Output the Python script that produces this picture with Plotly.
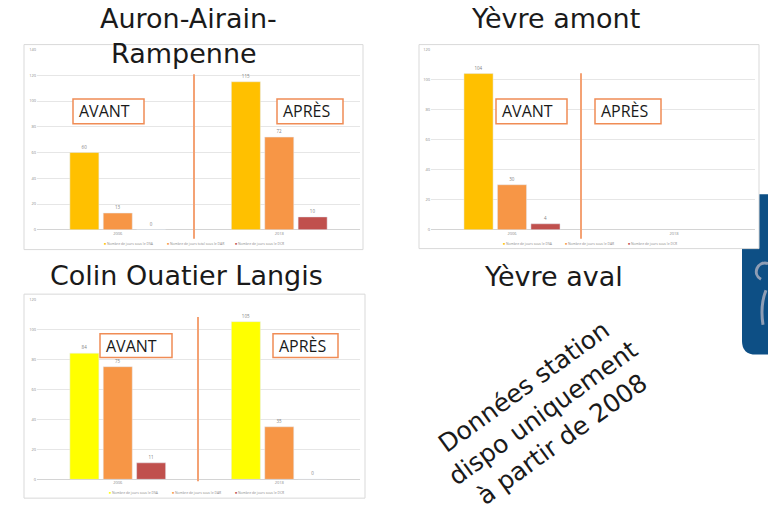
import plotly.graph_objects as go

W, H = 768, 516

# ---- data -------------------------------------------------------------
categories = ["2006", "2018"]

name_dsa = "Nombre de jours sous le DSA"
name_dar_total = "Nombre de jours total sous le DAR"
name_dar = "Nombre de jours sous le DAR"
name_dcr = "Nombre de jours sous le DCR"

auron_dsa = [60, 115]
auron_dar = [13, 72]
auron_dcr = [0, 10]

amont_dsa = [104, None]
amont_dar = [30, None]
amont_dcr = [4, None]

colin_dsa = [84, 105]
colin_dar = [75, 35]
colin_dcr = [11, 0]

titles = ["Auron-Airain-", "Rampenne", "Yèvre amont", "Colin Ouatier Langis", "Yèvre aval"]
note_lines = ["Données station", "dispo uniquement", "à partir de 2008"]
phase_labels = ["AVANT", "APRÈS"]

# ---- colours ----------------------------------------------------------
C_DSA = "#FFC000"
C_DSA_BRIGHT = "#FFFF00"
C_DAR = "#F79646"
C_DCR = "#C0504D"
C_DIVIDER = "#F4A274"
C_BOX = "#F08C55"
C_GRID = "#E6E6E6"
C_SMALL = "#8C8C8C"


def px(x):
    return x / W


def py(y):
    return 1 - y / H


fig = go.Figure()

# panel geometry in pixels: plot area (x0, x1, y_top, y_zero), y max
panels = [
    dict(ax="", x0=37, x1=360, ytop=47, yzero=229, ymax=140,
         series=[(name_dsa, auron_dsa, C_DSA), (name_dar_total, auron_dar, C_DAR), (name_dcr, auron_dcr, C_DCR)],
         frame=(24, 42, 363, 249), divider=(194, 72, 238),
         boxes=[(73, 97, 144, 122), (277, 97, 343, 122)],
         legend_y=243, legend_x=[102, 165, 233]),
    dict(ax="2", x0=431, x1=755, ytop=47, yzero=229, ymax=120,
         series=[(name_dsa, amont_dsa, C_DSA), (name_dar, amont_dar, C_DAR), (name_dcr, amont_dcr, C_DCR)],
         frame=(419, 42, 759, 248), divider=(581, 71, 238),
         boxes=[(496, 97, 567, 122), (595, 97, 661, 122)],
         legend_y=243, legend_x=[501, 563, 626]),
    dict(ax="3", x0=37, x1=360, ytop=299, yzero=481, ymax=120,
         series=[(name_dsa, colin_dsa, C_DSA_BRIGHT), (name_dar, colin_dar, C_DAR), (name_dcr, colin_dcr, C_DCR)],
         frame=(24, 294, 365, 500), divider=(198, 317, 483),
         boxes=[(100, 334, 172, 358), (273, 334, 338, 358)],
         legend_y=494, legend_x=[107, 170, 233]),
]

shapes = []
annotations = []

# decorative blue tab on the right edge, partly behind the upper right panel
shapes.append(dict(
    type="path", xref="paper", yref="paper", layer="below",
    path=(f"M {px(742)} {py(193)} L {px(770)} {py(193)} L {px(770)} {py(355)} "
          f"L {px(756)} {py(355)} Q {px(742)} {py(355)} {px(742)} {py(341)} Z"),
    fillcolor="#0D4F85", line=dict(width=0),
))
shapes.append(dict(
    type="path", xref="paper", yref="paper", layer="below",
    path=(f"M {px(768)} {py(263)} C {px(757)} {py(260)} {px(752)} {py(274)} {px(761)} {py(279)} "
          f"M {px(766)} {py(290)} C {px(762)} {py(300)} {px(761)} {py(312)} {px(763)} {py(325)}"),
    line=dict(color="#8E9DB4", width=3),
))

for p in panels:
    a = p["ax"]
    xa = "x" + a
    ya = "y" + a
    for name, vals, col in p["series"]:
        fig.add_trace(go.Bar(
            x=categories, y=vals, name=name, marker_color=col,
            xaxis=xa, yaxis=ya, showlegend=False,
            texttemplate="%{y}", textposition="outside", cliponaxis=False,
            textfont=dict(size=4.5, color="#7F7F7F", family="Open Sans"),
        ))

    fig.update_layout(**{
        "xaxis" + a: dict(
            domain=[px(p["x0"]), px(p["x1"])], anchor=ya, type="category",
            categoryarray=categories, range=[-0.5, 1.5], showgrid=False,
            showline=False, ticks="", fixedrange=True,
            tickfont=dict(size=4, color=C_SMALL, family="Open Sans"),
        ),
        "yaxis" + a: dict(
            domain=[py(p["yzero"]), py(p["ytop"])], anchor=xa,
            range=[0, p["ymax"]], dtick=20, gridcolor=C_GRID, gridwidth=1,
            zeroline=True, zerolinecolor="#D4D4D4", zerolinewidth=1,
            showline=False, ticks="", fixedrange=True,
            tickfont=dict(size=4, color=C_SMALL, family="Open Sans"),
        ),
    })

    # white card behind each chart
    fx0, fy0, fx1, fy1 = p["frame"]
    shapes.append(dict(type="rect", xref="paper", yref="paper", layer="below",
                       x0=px(fx0), x1=px(fx1), y0=py(fy1), y1=py(fy0),
                       fillcolor="white", line=dict(color="#D9D9D9", width=1)))

    # vertical separator between the two periods
    dx, dy0, dy1 = p["divider"]
    shapes.append(dict(type="line", xref="paper", yref="paper", layer="above",
                       x0=px(dx), x1=px(dx), y0=py(dy1), y1=py(dy0),
                       line=dict(color=C_DIVIDER, width=2)))

    # AVANT / APRÈS call-outs
    for label, (bx0, by0, bx1, by1) in zip(phase_labels, p["boxes"]):
        shapes.append(dict(type="rect", xref="paper", yref="paper", layer="above",
                           x0=px(bx0), x1=px(bx1), y0=py(by1), y1=py(by0),
                           fillcolor="white", line=dict(color=C_BOX, width=1.5)))
        annotations.append(dict(
            text=label, xref="paper", yref="paper", x=px(bx0 + 4), y=py((by0 + by1) / 2),
            xanchor="left", yanchor="middle", showarrow=False,
            font=dict(family="Open Sans", size=16, color="#1A1A1A"),
        ))

    # compact legend row under each chart
    for (name, _, col), lx in zip(p["series"], p["legend_x"]):
        annotations.append(dict(
            text=f"<span style='color:{col}'>■</span> {name}",
            xref="paper", yref="paper", x=px(lx), y=py(p["legend_y"]),
            xanchor="left", yanchor="middle", showarrow=False,
            font=dict(family="Open Sans", size=3.4, color=C_SMALL),
        ))

# station titles
title_pos = [(188, 16), (184, 51), (555, 16), (186, 275), (553, 276)]
for t, (tx, ty) in zip(titles, title_pos):
    annotations.append(dict(
        text=t, xref="paper", yref="paper", x=px(tx), y=py(ty),
        xanchor="center", yanchor="middle", showarrow=False,
        font=dict(family="DejaVu Sans", size=27, color="#1A1A1A"),
    ))

# rotated note for the station without earlier data
annotations.append(dict(
    text="<br>".join(note_lines), xref="paper", yref="paper",
    x=px(543), y=py(414), xanchor="center", yanchor="middle",
    showarrow=False, textangle=-36, align="center",
    font=dict(family="DejaVu Sans", size=25, color="#1A1A1A"),
))

fig.update_layout(
    width=W, height=H, margin=dict(l=0, r=0, t=0, b=0),
    paper_bgcolor="white", plot_bgcolor="rgba(0,0,0,0)",
    barmode="group", bargap=0.38, bargroupgap=0.13,
    shapes=shapes, annotations=annotations,
    showlegend=False,
)

fig.write_html("out.html")
